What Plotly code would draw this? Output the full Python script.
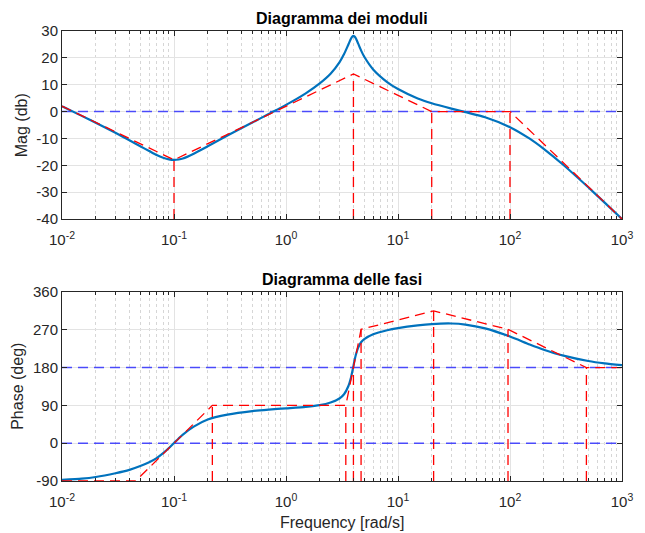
import plotly.graph_objects as go

# ---- data ----
freq = [0.01, 0.015, 0.02, 0.03, 0.04, 0.05, 0.06, 0.07, 0.08, 0.09, 0.1, 0.11, 0.12, 0.15,
        0.2, 0.3, 0.5, 0.7, 1, 1.5, 2, 2.5, 3, 3.3, 3.6, 3.8, 3.9, 4, 4.1, 4.2, 4.4, 4.7,
        5, 6, 8, 10, 15, 20, 30, 40, 60, 100, 150, 200, 300, 500, 700, 1000]
mag_db = [2.0, -1.6, -4.2, -7.9, -10.7, -12.9, -14.7, -16.2, -17.2, -17.8, -18.0, -17.85, -17.5, -15.7,
          -12.9, -8.9, -4.1, -0.9, 2.5, 6.8, 10.5, 14.1, 18.3, 21.4, 24.9, 27.1, 27.9, 28.2, 27.9, 27.3, 25.4, 22.6,
          20.4, 15.7, 11.0, 8.4, 4.9, 3.1, 1.1, -0.2, -2.1, -5.8, -10.1, -13.9, -19.9, -28.2, -33.9, -40.0]
phase_deg = [-87.5, -84.5, -80.5, -71.5, -63.5, -54.5, -45.5, -35.5, -23.8, -11.5, 0.5, 11.3, 20.5, 39.5,
             56.5, 68.0, 76.5, 80.0, 83.0, 86.5, 90.5, 97.0, 106.5, 116.5, 135.5, 156.0, 169.5, 184.0, 198.0, 210.0, 227.0, 241.0,
             248.0, 259.5, 269.0, 274.0, 280.5, 283.7, 285.0, 282.5, 273.5, 254.0, 235.0, 222.7, 208.4, 195.7, 190.0, 185.7]

mag_asym_w = [0.01, 0.1, 4, 20, 100, 1000]
mag_asym_db = [2, -18, 14, 0, 0, -40]
mag_break_w = [0.1, 4, 20, 100]
mag_break_db = [-18, 14, 0, 0]

ph_asym_w = [0.01, 0.0455, 0.22, 3.42, 4.68, 20.8, 96, 481, 1000]
ph_asym_deg = [-90, -90, 90, 90, 271, 315, 271, 180, 180]
ph_break_w = [0.22, 3.42, 4.0, 4.68, 20.8, 96, 481]
ph_break_deg = [90, 90, 180, 271, 315, 271, 180]

mag_ref = [0]
phase_ref = [0, 180]

mag_range = [-40, 30]
phase_range = [-90, 360]
mag_ticks = [-40, -30, -20, -10, 0, 10, 20, 30]
mag_ticktext = ["-40", "-30", "-20", "-10", "0", "10", "20", "30"]
phase_ticks = [-90, 0, 90, 180, 270, 360]
phase_ticktext = ["-90", "0", "90", "180", "270", "360"]
x_ticks = [0.01, 0.1, 1, 10, 100, 1000]
x_ticktext = ["10<sup>-2</sup>", "10<sup>-1</sup>", "10<sup>0</sup>",
              "10<sup>1</sup>", "10<sup>2</sup>", "10<sup>3</sup>"]

# ---- styling ----
FONT = "Liberation Sans, Arial, Helvetica, sans-serif"
BLUE = "#0072BD"
RED = "#ff0000"
REFBLUE = "rgba(35,35,255,0.8)"
AXC = "#262626"
GRID = "#e3e3e3"
MINOR_GRID = "#d6d6d6"

minor_vals = [m * 10 ** k for k in range(-2, 3) for m in range(2, 10)]


def vlines(ws, tops, bottom):
    xs, ys = [], []
    for w, t in zip(ws, tops):
        xs += [w, w, None]
        ys += [bottom, t, None]
    return xs, ys


fig = go.Figure()

# reference lines (blue dashed)
for r in mag_ref:
    fig.add_trace(go.Scatter(x=[x_ticks[0], x_ticks[-1]], y=[r, r], mode="lines",
                             line=dict(color=REFBLUE, width=1.5, dash="10px,6px"),
                             xaxis="x", yaxis="y", hoverinfo="skip"))
for r in phase_ref:
    fig.add_trace(go.Scatter(x=[x_ticks[0], x_ticks[-1]], y=[r, r], mode="lines",
                             line=dict(color=REFBLUE, width=1.5, dash="10px,6px"),
                             xaxis="x2", yaxis="y2", hoverinfo="skip"))

# actual curves
fig.add_trace(go.Scatter(x=freq, y=mag_db, mode="lines", line=dict(color=BLUE, width=2.2, shape="spline", smoothing=0.6),
                         xaxis="x", yaxis="y"))
fig.add_trace(go.Scatter(x=freq, y=phase_deg, mode="lines", line=dict(color=BLUE, width=2.2, shape="spline", smoothing=0.6),
                         xaxis="x2", yaxis="y2"))

# asymptotes (red dashed)
fig.add_trace(go.Scatter(x=mag_asym_w, y=mag_asym_db, mode="lines",
                         line=dict(color=RED, width=1.3, dash="10px,6px"), xaxis="x", yaxis="y"))
vx, vy = vlines(mag_break_w, mag_break_db, mag_range[0])
fig.add_trace(go.Scatter(x=vx, y=vy, mode="lines", connectgaps=False,
                         line=dict(color=RED, width=1.3, dash="10px,6px"), xaxis="x", yaxis="y"))
fig.add_trace(go.Scatter(x=ph_asym_w, y=ph_asym_deg, mode="lines",
                         line=dict(color=RED, width=1.3, dash="10px,6px"), xaxis="x2", yaxis="y2"))
vx, vy = vlines(ph_break_w, ph_break_deg, phase_range[0])
fig.add_trace(go.Scatter(x=vx, y=vy, mode="lines", connectgaps=False,
                         line=dict(color=RED, width=1.3, dash="10px,6px"), xaxis="x2", yaxis="y2"))

xcommon = dict(type="log", range=[-2, 3], tickvals=x_ticks, ticktext=x_ticktext,
               ticks="inside", ticklen=5, tickcolor=AXC, showline=True, linecolor=AXC, linewidth=1,
               mirror="ticks", showgrid=True, gridcolor=GRID, gridwidth=1, zeroline=False,
               ticklabelstandoff=7,
               tickfont=dict(family=FONT, size=15, color=AXC),
               minor=dict(tickvals=minor_vals, ticks="inside", ticklen=3, tickcolor=AXC,
                          showgrid=True, gridcolor=MINOR_GRID, griddash="dot", gridwidth=1))
ycommon = dict(ticks="inside", ticklen=5, tickcolor=AXC, showline=True, linecolor=AXC, linewidth=1,
               mirror="ticks", showgrid=True, gridcolor=GRID, gridwidth=1, zeroline=False,
               tickfont=dict(family=FONT, size=15, color=AXC))

H, W = 533, 645
ml, mr, mt, mb = 62, 13, 31, 52
ph = H - mt - mb
top_bottom = (H - mb - 219) / ph
bot_top = (H - mb - 292) / ph

fig.update_layout(
    width=W, height=H, margin=dict(l=ml, r=mr, t=mt, b=mb),
    paper_bgcolor="white", plot_bgcolor="white", showlegend=False,
    font=dict(family=FONT, color=AXC),
    xaxis=dict(domain=[0, 1], anchor="y", **xcommon),
    yaxis=dict(domain=[top_bottom, 1], anchor="x", range=mag_range, tickvals=mag_ticks,
               ticktext=mag_ticktext, **ycommon),
    xaxis2=dict(domain=[0, 1], anchor="y2", **xcommon),
    yaxis2=dict(domain=[0, bot_top], anchor="x2", range=phase_range, tickvals=phase_ticks,
                ticktext=phase_ticktext, **ycommon),
    annotations=[
        dict(text="<b>Diagramma dei moduli</b>", xref="paper", yref="paper", x=0.5, y=1,
             xanchor="center", yanchor="bottom", yshift=2, showarrow=False,
             font=dict(family=FONT, size=16, color="black")),
        dict(text="<b>Diagramma delle fasi</b>", xref="paper", yref="paper", x=0.5, y=bot_top,
             xanchor="center", yanchor="bottom", yshift=2, showarrow=False,
             font=dict(family=FONT, size=16, color="black")),
        dict(text="Mag (db)", xref="paper", yref="paper", x=(20.5 - ml) / (W - ml - mr),
             y=(H - mb - 125) / ph, xanchor="center", yanchor="middle", textangle=-90, showarrow=False,
             font=dict(family=FONT, size=16, color=AXC)),
        dict(text="Phase (deg)", xref="paper", yref="paper", x=(16.5 - ml) / (W - ml - mr),
             y=(H - mb - 386.5) / ph, xanchor="center", yanchor="middle", textangle=-90, showarrow=False,
             font=dict(family=FONT, size=16, color=AXC)),
        dict(text="Frequency [rad/s]", xref="paper", yref="paper", x=0.5,
             y=(H - mb - 522) / ph, xanchor="center", yanchor="middle", showarrow=False,
             font=dict(family=FONT, size=16, color=AXC)),
    ],
)

fig.write_html("out.html")
